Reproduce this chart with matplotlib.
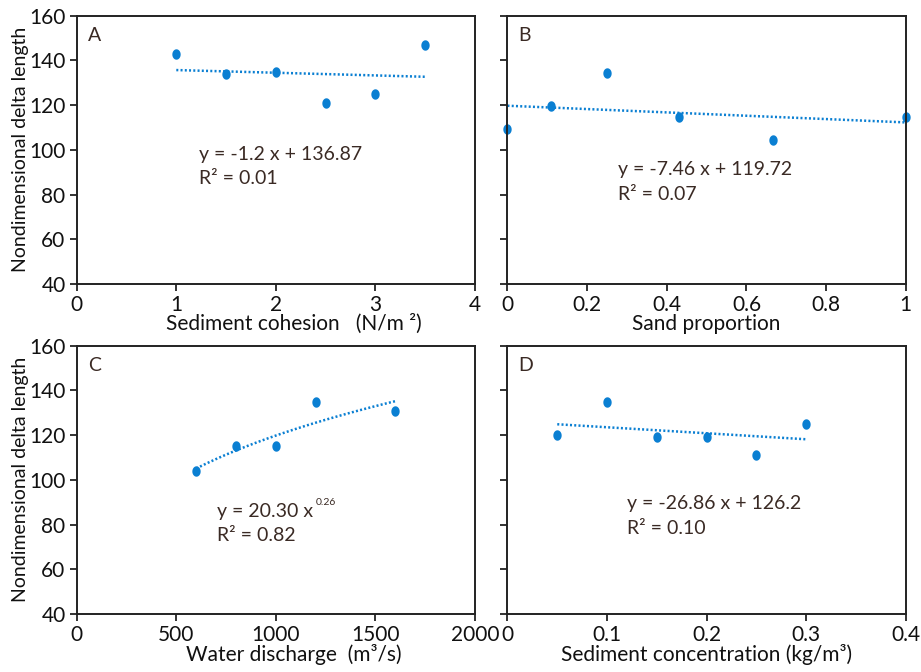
import numpy as np
import matplotlib.pyplot as plt

plt.rcParams['font.family'] = ['Lato', 'DejaVu Sans']

# data for the four panels
cohesion = [1, 1.5, 2, 2.5, 3, 3.5]
length_a = [143, 134, 135, 121, 125, 147]

sand = [0, 0.11, 0.25, 0.43, 0.667, 1]
length_b = [109.5, 119.5, 134.5, 114.5, 104.5, 114.5]

discharge = [600, 800, 1000, 1200, 1600]
length_c = [104, 115, 115, 135, 131]

concentration = [0.05, 0.1, 0.15, 0.2, 0.25, 0.3]
length_d = [120, 135, 119, 119, 111, 125]

# trendline coefficients
fit_a = (-1.2, 136.87, 0.01)       # slope, intercept, R2
fit_b = (-7.46, 119.72, 0.07)
fit_c = (20.30, 0.257, 0.82)       # coefficient, exponent, R2
fit_d = (-26.86, 126.2, 0.10)

blue = '#0a7fd2'
txt = '#3a2a24'
fs_tick = 15
fs_xlab = 15
fs_ylab = 14
fs_eq = 14

# ellipse marker (a little taller than wide)
t = np.linspace(0, 2 * np.pi, 40)
ell = list(zip(0.8 * np.cos(t), np.sin(t)))
mk = dict(ls='none', marker=ell, ms=7.5, color=blue, mec='none', clip_on=False)
tl = dict(color=blue, lw=1.8, ls=(0, (0.8, 0.9)))

fig = plt.figure(figsize=(9.21, 6.72), dpi=100)
w, h = 0.4325, 0.3993
ax_a = fig.add_axes([0.0833, 0.5774, w, h])
ax_b = fig.add_axes([0.551, 0.5774, w, h])
ax_c = fig.add_axes([0.0833, 0.0863, w, h])
ax_d = fig.add_axes([0.551, 0.0863, w, h])


def style(ax, xlim, xticks, xticklabels, xlabel, letter, ylabels=True, xlab_x=0.5):
    ax.set_xlim(*xlim)
    ax.set_ylim(40, 160)
    ax.set_xticks(xticks)
    ax.set_xticklabels(xticklabels)
    ax.set_yticks(range(40, 161, 20))
    if not ylabels:
        ax.set_yticklabels([])
    else:
        ax.set_ylabel('Nondimensional delta length', fontsize=fs_ylab, labelpad=0, color='#111111')
    ax.set_xlabel(xlabel, fontsize=fs_xlab, labelpad=-1, color='#111111', x=xlab_x)
    ax.tick_params(direction='out', length=5, width=1.2, labelsize=fs_tick, pad=3, colors='#111111')
    for s in ax.spines.values():
        s.set_linewidth(1.4)
        s.set_color('#222222')
    ax.text(0.028, 0.925, letter, transform=ax.transAxes, fontsize=fs_eq, color=txt, va='center')


def eq(ax, x, y, y2, line1, line2):
    ax.text(x, y, line1, fontsize=fs_eq, color=txt, va='center')
    ax.text(x, y2, line2, fontsize=fs_eq, color=txt, va='center')


# A
style(ax_a, (0, 4), [0, 1, 2, 3, 4], ['0', '1', '2', '3', '4'],
      'Sediment cohesion   (N/m ²)', 'A', xlab_x=0.545)
xs = np.array([cohesion[0], cohesion[-1]])
ax_a.plot(xs, fit_a[0] * xs + fit_a[1], **tl)
ax_a.plot(cohesion, length_a, **mk)
eq(ax_a, 1.23, 98, 87, f'y = {fit_a[0]} x + {fit_a[1]}', f'R² = {fit_a[2]:.2f}')

# B
style(ax_b, (0, 1), [0, 0.2, 0.4, 0.6, 0.8, 1], ['0', '0.2', '0.4', '0.6', '0.8', '1'],
      'Sand proportion', 'B', ylabels=False)
xs = np.array([0, 1])
ax_b.plot(xs, fit_b[0] * xs + fit_b[1], **tl)
ax_b.plot(sand, length_b, **mk)
eq(ax_b, 0.277, 91, 80, f'y = {fit_b[0]} x + {fit_b[1]}', f'R² = {fit_b[2]:.2f}')

# C
style(ax_c, (0, 2000), [0, 500, 1000, 1500, 2000], ['0', '500', '1000', '1500', '2000'],
      'Water discharge  (m³/s)', 'C', xlab_x=0.545)
xs = np.linspace(discharge[0], discharge[-1], 100)
ax_c.plot(xs, fit_c[0] * xs ** fit_c[1], **tl)
ax_c.plot(discharge, length_c, **mk)
eq(ax_c, 703, 86, 75.3, f'y = {fit_c[0]:.2f} x', f'R² = {fit_c[2]:.2f}')
ax_c.text(1200, 90, f'{fit_c[1]:.2f}', fontsize=7.5, color=txt, va='center')

# D
style(ax_d, (0, 0.4), [0, 0.1, 0.2, 0.3, 0.4], ['0', '0.1', '0.2', '0.3', '0.4'],
      'Sediment concentration (kg/m³)', 'D', ylabels=False)
xs = np.array([concentration[0], concentration[-1]])
ax_d.plot(xs, fit_d[0] * xs + fit_d[1], **tl)
ax_d.plot(concentration, length_d, **mk)
eq(ax_d, 0.12, 89.5, 78.3, f'y = {fit_d[0]} x + {fit_d[1]}', f'R² = {fit_d[2]:.2f}')

fig.savefig('out.png', dpi=100)
